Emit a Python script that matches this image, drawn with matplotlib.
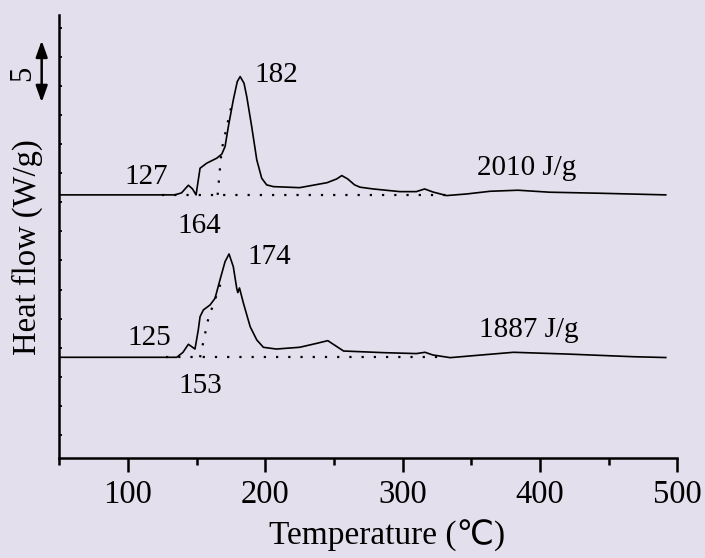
import matplotlib
matplotlib.use("Agg")
import matplotlib.pyplot as plt
import matplotlib.transforms as mtransforms
from matplotlib.ticker import MultipleLocator, NullFormatter

# DSC traces (temperature in degC, heat flow in W/g, offset)
t_top = [50, 134, 139, 144, 147, 149.6, 151, 152.5, 157.3, 164.6, 168.3, 170.7,
         173.1, 176.7, 179.6, 181.7, 184.5, 186.5, 190.1, 193.8, 197.4, 201,
         205.9, 225, 245, 252, 255.7, 260, 265, 269, 278.5, 298, 310, 316, 322,
         332, 346.7, 363.7, 384, 407, 443.8, 491.6]
hf_top = [20.64, 20.64, 20.81, 21.47, 21.15, 20.64, 21.75, 22.93, 23.36, 23.79,
          24.14, 24.79, 26.51, 28.80, 30.38, 30.81, 30.24, 29.09, 26.51, 23.65,
          22.07, 21.50, 21.35, 21.26, 21.69, 22.01, 22.30, 22.01, 21.50, 21.30,
          21.15, 20.92, 20.92, 21.15, 20.89, 20.58, 20.72, 20.95, 21.04, 20.87,
          20.78, 20.64]

t_bot = [50, 135.5, 140, 144, 148.8, 151.2, 152.5, 154.9, 159.8, 163.4, 167,
         170.7, 173.6, 176.7, 179.2, 180, 181.2, 184.1, 189, 193.8, 198.6, 208,
         225, 237.5, 245.5, 257, 286, 310, 316.3, 322, 334.6, 351.5, 380.7,
         419.6, 468, 491.6]
hf_bot = [6.68, 6.68, 7.1, 7.80, 7.39, 9.03, 10.17, 10.75, 11.18, 11.75, 13.33,
          14.90, 15.56, 14.47, 12.61, 12.24, 12.64, 11.32, 9.31, 8.17, 7.54, 7.39,
          7.54, 7.88, 8.11, 7.22, 7.08, 7.00, 7.11, 6.88, 6.65, 6.82, 7.11, 6.96,
          6.73, 6.66]

# integration baselines and onset tangents
base_top_t = [124.6, 332]
base_top_hf = [20.64, 20.64]
tan_top_t = [165.3, 168.2, 176.5]
tan_top_hf = [20.64, 24.5, 28.9]

base_bot_t = [128, 327]
base_bot_hf = [6.68, 6.68]
tan_bot_t = [152.5, 158.5, 168.3]
tan_bot_hf = [6.68, 10.0, 13.3]

# labels: (text, temperature, heat flow)
labels = [
    ("127", 113.5, 21.58),
    ("164", 151.7, 17.34),
    ("182", 207.8, 30.38),
    ("2010 J/g", 390.3, 22.36),
    ("125", 115.3, 7.74),
    ("153", 152.5, 3.61),
    ("174", 203.2, 14.70),
    ("1887 J/g", 392.1, 8.45),
]

bg = "#E4DFEC"
serif = ["Liberation Serif", "DejaVu Serif"]
plt.rcParams["font.family"] = serif

fig = plt.figure(figsize=(7.05, 5.58), dpi=100, facecolor=bg)
ax = fig.add_axes([0.0841, 0.1787, 0.8766, 0.7944])
ax.set_facecolor(bg)

ax.plot(t_top, hf_top, color="black", lw=1.2)
ax.plot(t_bot, hf_bot, color="black", lw=1.2)

dot = (0, (1, 4.5))
for tx, ty in [(base_top_t, base_top_hf), (tan_top_t, tan_top_hf),
               (base_bot_t, base_bot_hf), (tan_bot_t, tan_bot_hf)]:
    ax.plot(tx, ty, color="black", lw=1.6, linestyle=dot)

for txt, x, y in labels:
    ax.text(x, y, txt, ha="center", va="baseline", fontsize=21)

ax.set_xlim(50, 500)
ax.set_ylim(-2.0, 36.1)

for side in ("top", "right"):
    ax.spines[side].set_visible(False)
for side in ("left", "bottom"):
    ax.spines[side].set_linewidth(1.8)

ax.xaxis.set_major_locator(MultipleLocator(100))
ax.xaxis.set_minor_locator(MultipleLocator(50))
ax.tick_params(axis="x", which="major", direction="out", length=10, width=1.8,
               labelsize=23.5, pad=5)
ax.tick_params(axis="x", which="minor", direction="out", length=5, width=1.8)

ax.yaxis.set_major_locator(MultipleLocator(2.5))
ax.yaxis.set_major_formatter(NullFormatter())
ax.tick_params(axis="y", which="major", direction="in", length=2.5, width=1.3)

ax.set_xlabel("Temperature (\u2103)", fontsize=24,
              family=["Liberation Serif", "DejaVu Sans"])
ax.xaxis.set_label_coords(0.53, -0.14)
ax.set_ylabel("Heat flow (W/g)", fontsize=23.5)
ax.yaxis.set_label_coords(-0.027, 0.477)

# 5 W/g scale bar left of the axis
trans = mtransforms.blended_transform_factory(ax.transAxes, ax.transData)
ax.annotate("", xy=(-0.0285, 33.9), xytext=(-0.0285, 28.6),
            xycoords=trans, textcoords=trans, annotation_clip=False,
            arrowprops=dict(arrowstyle="<|-|>,head_length=0.7,head_width=0.25",
                            color="black", lw=1.8,
                            mutation_scale=14, shrinkA=0, shrinkB=0))
ax.text(-0.060, 31.1, "5", transform=trans, rotation=90, ha="center",
        va="center", fontsize=22, clip_on=False)

fig.savefig("out.png", dpi=100, facecolor=bg)
